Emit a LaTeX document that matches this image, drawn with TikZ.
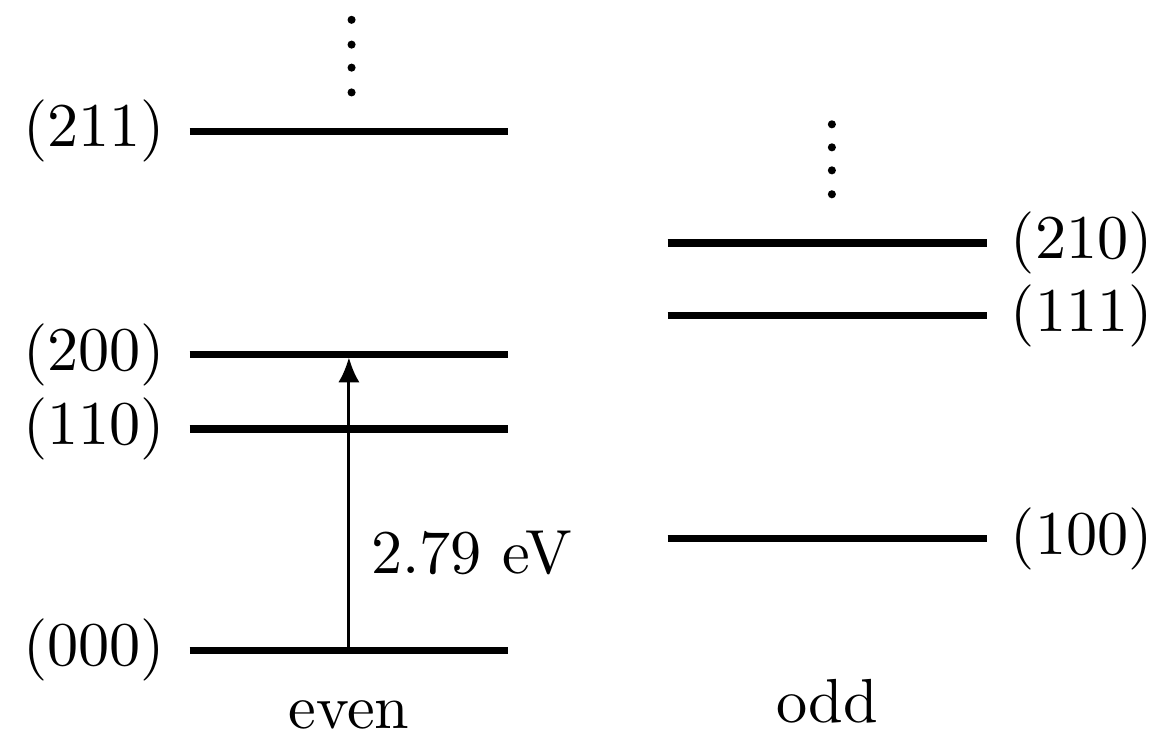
\documentclass[tikz,border=0pt]{standalone}
\usepackage{tikz}
\usetikzlibrary{arrows.meta,positioning}
\tikzset{
  lvl/.style={line width=1.2pt, black},
  arr/.style={-{Latex[length=4pt,width=3.4pt]}, line width=0.5pt, shorten >=0.45pt},
  dotmark/.style={black},
}

\begin{document}
\begin{tikzpicture}
\useasboundingbox (-1.07,-0.463) rectangle (5.57,3.672);
% even levels
\begin{scope}
\draw[lvl] (0,0) node[left] (l000) {(000)} -- coordinate (m000) (1.8,0);
\draw[lvl] (0,1.25) node[left] (l110) {(110)} -- coordinate (m110) (1.8,1.25);
\draw[lvl] (0,1.67) node[left] (l200) {(200)} -- coordinate (m200) (1.8,1.67);
\draw[lvl] (0,2.93) node[left] (l211) {(211)} -- coordinate (m211) (1.8,2.93);
\foreach \y in {3.15,3.29,3.42,3.56}
  \fill[dotmark] (0.915,\y) circle (0.65pt);
\node[anchor=base] (even) at (0.9,-0.44) {even};
\end{scope}
% odd levels
\begin{scope}[xshift=2.7cm]
\draw[lvl] (0,0.63) -- coordinate (m100) (1.8,0.63) node[right] (l100) {(100)};
\draw[lvl] (0,1.89) -- coordinate (m111) (1.8,1.89) node[right] (l111) {(111)};
\draw[lvl] (0,2.30) -- coordinate (m210) (1.8,2.30) node[right] (l210) {(210)};
\foreach \y in {2.575,2.71,2.84,2.97}
  \fill[dotmark] (0.927,\y) circle (0.65pt);
\node[anchor=base] (odd) at (0.9,-0.41) {odd};
\end{scope}
% transition
\draw[arr] (m000) -- (m200) node[pos=0.33, right] (gap) {2.79 eV};
\end{tikzpicture}
\end{document}
